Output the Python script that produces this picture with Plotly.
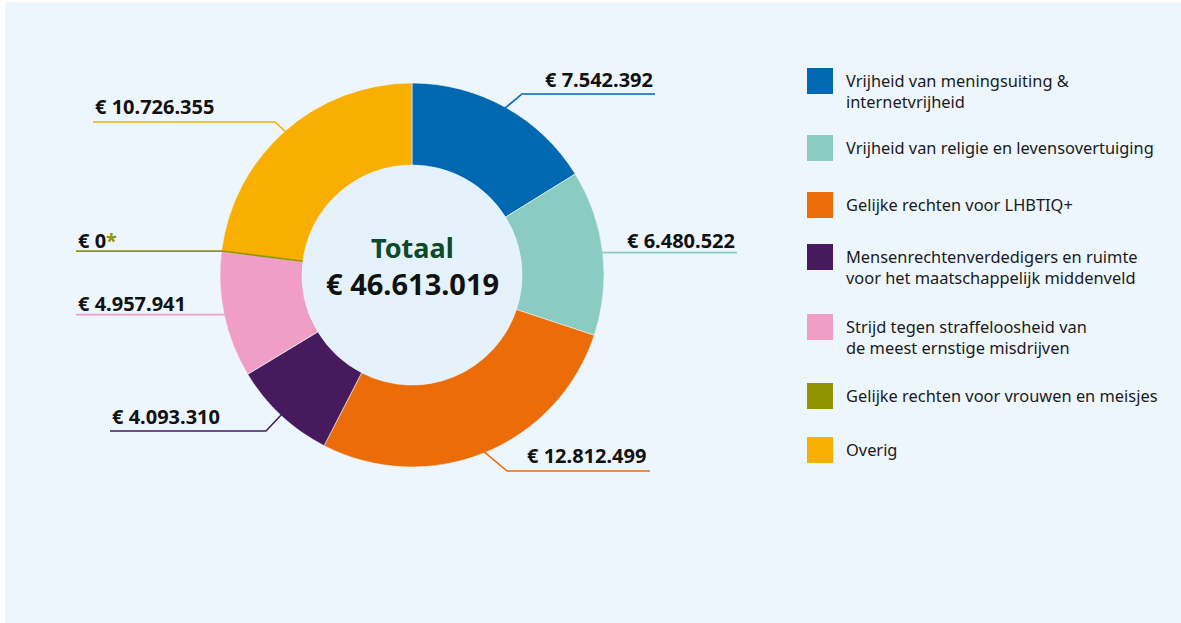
import math
import plotly.graph_objects as go

W, H = 1181, 623

categories = [
    "Vrijheid van meningsuiting &<br>internetvrijheid",
    "Vrijheid van religie en levensovertuiging",
    "Gelijke rechten voor LHBTIQ+",
    "Mensenrechtenverdedigers en ruimte<br>voor het maatschappelijk middenveld",
    "Strijd tegen straffeloosheid van<br>de meest ernstige misdrijven",
    "Gelijke rechten voor vrouwen en meisjes",
    "Overig",
]
values = [7542392, 6480522, 12812499, 4093310, 4957941, 0, 10726355]
value_labels = ["€ 7.542.392", "€ 6.480.522", "€ 12.812.499", "€ 4.093.310",
                "€ 4.957.941", "€ 0", "€ 10.726.355"]
colors = ["#0067B1", "#8ACCC2", "#EC6C08", "#461A5C", "#F09EC5", "#8F9400", "#F9AF00"]
total_label = "€ 46.613.019"

BG = "#EEF6FD"
HOLE_BG = "#E5F2FB"
FONT = "Noto Sans"

cx, cy, R, r_in = 412, 275, 192, 110


def px(x):
    return x / W


def py(y):
    return 1 - y / H


def polar(frac, rad):
    t = frac * 2 * math.pi
    return cx + rad * math.sin(t), cy - rad * math.cos(t)


total = sum(values)
cum = [0]
for v in values:
    cum.append(cum[-1] + v)
mids = [(cum[i] + values[i] / 2) / total for i in range(len(values))]
starts = [cum[i] / total for i in range(len(values))]

fig = go.Figure()
fig.add_trace(go.Pie(
    labels=categories, values=values, sort=False, direction="clockwise",
    rotation=0, hole=r_in / R,
    marker=dict(colors=colors, line=dict(color=BG, width=0.6)),
    textinfo="none", hoverinfo="label+value", showlegend=False,
    domain=dict(x=[px(cx - R), px(cx + R)], y=[py(cy + R), py(cy - R)]),
))

shapes = []
annotations = []

# panel background
shapes.append(dict(type="rect", xref="paper", yref="paper", layer="below",
                   x0=px(5), x1=1.0, y0=0.0, y1=py(2),
                   fillcolor=BG, line=dict(width=0)))
# hole background
shapes.append(dict(type="circle", xref="paper", yref="paper", layer="below",
                   x0=px(cx - r_in), x1=px(cx + r_in), y0=py(cy + r_in), y1=py(cy - r_in),
                   fillcolor=HOLE_BG, line=dict(width=0)))

# label layout: (elbow, end_x, text_x, text_y, align)
layout_cfg = [
    ((522, 94), 655, 655, 80, "right"),
    (None, 737, 737, 240, "right"),
    ((507, 471), 650, 648, 455, "right"),
    ((266, 431), 110, 110, 416, "left"),
    (None, 76, 76, 304, "left"),
    (None, 76, 76, 240, "left"),
    ((275, 122), 93, 93, 107, "left"),
]

for i, (elbow, end_x, tx, ty, align) in enumerate(layout_cfg):
    if values[i] == 0:
        x_in, y_in = polar(starts[i], r_in)
        x_out, y_out = polar(starts[i], R)
        pts = [(x_in, y_in), (x_out, y_out), (end_x, y_out)]
    else:
        ax, ay = polar(mids[i], R - 1)
        if elbow is None:
            pts = [(ax, ay), (end_x, ay)]
        else:
            pts = [(ax, ay), elbow, (end_x, elbow[1])]
    path = "M " + " L ".join(f"{px(x):.5f},{py(y):.5f}" for x, y in pts)
    shapes.append(dict(type="path", xref="paper", yref="paper", path=path,
                       line=dict(color=colors[i], width=1.6), layer="above"))
    text = f"<b>{value_labels[i]}</b>"
    if values[i] == 0:
        text += f"<b><span style='color:{colors[i]}'>*</span></b>"
    annotations.append(dict(xref="paper", yref="paper", x=px(tx), y=py(ty),
                            xanchor=align, yanchor="middle", showarrow=False,
                            text=text, font=dict(family=FONT, size=20, color="#111111")))

# centre text
annotations.append(dict(xref="paper", yref="paper", x=px(cx), y=py(247),
                        xanchor="center", yanchor="middle", showarrow=False,
                        text="<b>Totaal</b>", font=dict(family=FONT, size=27, color="#0B4A2A")))
annotations.append(dict(xref="paper", yref="paper", x=px(cx), y=py(284),
                        xanchor="center", yanchor="middle", showarrow=False,
                        text=f"<b>{total_label}</b>", font=dict(family=FONT, size=29, color="#111111")))

# custom legend (square centre = first text line centre)
legend_y = [81, 148, 205, 257, 327, 396, 450]
for i, yy in enumerate(legend_y):
    shapes.append(dict(type="rect", xref="paper", yref="paper",
                       x0=px(807), x1=px(833), y0=py(yy + 13), y1=py(yy - 13),
                       fillcolor=colors[i], line=dict(width=0)))
    annotations.append(dict(xref="paper", yref="paper", x=px(844), y=py(yy - 14),
                            xanchor="left", yanchor="top", align="left", showarrow=False,
                            text=categories[i],
                            font=dict(family=FONT, size=16.4, color="#1A1A1A")))

fig.update_layout(
    width=W, height=H, margin=dict(l=0, r=0, t=0, b=0),
    paper_bgcolor="#FFFFFF", plot_bgcolor=BG,
    shapes=shapes, annotations=annotations, showlegend=False,
)

fig.write_html("out.html", config={"displayModeBar": False},
               post_script="document.body.style.margin='0px';document.body.style.overflow='hidden';")
